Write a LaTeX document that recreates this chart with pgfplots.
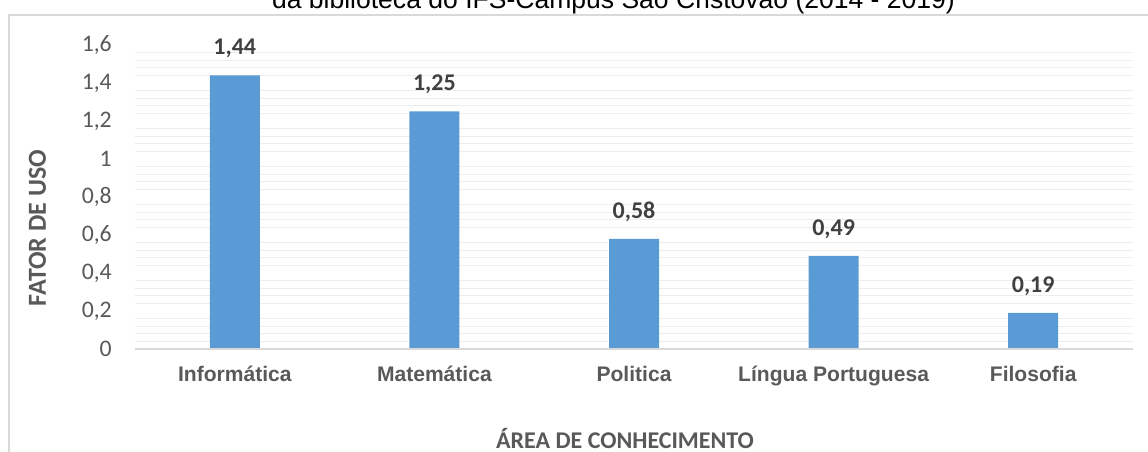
\documentclass[border=0pt]{standalone}
\usepackage{pgfplots}
\pgfplotsset{compat=1.18}
\usepackage{fontspec}
\setmainfont{Carlito}
\newfontfamily\arial{Liberation Sans}
\definecolor{barblue}{HTML}{5B9BD5}
\definecolor{txt}{HTML}{595959}
\definecolor{valtxt}{HTML}{404040}
\definecolor{axisgray}{HTML}{D9D9D9}
\definecolor{gridgray}{HTML}{EDEDED}
\begin{document}
\begin{tikzpicture}[x=0.75pt,y=0.75pt]
\useasboundingbox (0,0) rectangle (1148,452);
\draw[axisgray, line width=1.5pt] (8.5,-5) -- (8.5,437) -- (1152,437);
\node[font=\arial\fontsize{19.9}{24}\selectfont, text=black, anchor=base, inner sep=0pt] at (613.5,443) {da biblioteca do IFS-Campus São Cristóvão (2014 - 2019)};
\begin{axis}[
  at={(101.25pt,77.25pt)}, anchor=south west,
  scale only axis, width=748.5pt, height=228pt,
  xmin=-0.5, xmax=4.5, ymin=0, ymax=1.6,
  ybar, bar width=37.5pt,
  axis line style={draw=none},
  xtick={0,1,2,3,4},
  xticklabels={Informática, Matemática, Politica, Língua Portuguesa, Filosofia},
  ytick={0,0.2,0.4,0.6,0.8,1,1.2,1.4,1.6},
  minor y tick num=4,
  yminorgrids=true, ymajorgrids=false,
  minor grid style={gridgray, line width=0.8pt},
  major tick length=0pt, minor tick length=0pt,
  tick style={draw=none},
  xticklabel style={font=\arial\bfseries\fontsize{15.8}{19}\selectfont, text=txt, inner sep=0pt, anchor=north, yshift=-12.5pt},
  yticklabel style={font=\fontsize{17.8}{20}\selectfont, text=txt, inner sep=0pt, anchor=east, xshift=-17.25pt},
  yticklabel={\pgfmathprintnumber[use comma, assume math mode=true]{\tick}},
  nodes near coords={\pgfmathprintnumber[fixed, fixed zerofill, precision=2, use comma, assume math mode=true]{\pgfplotspointmeta}},
  every node near coord/.append style={font=\bfseries\fontsize{18}{21}\selectfont, text=valtxt, anchor=base, inner sep=0pt, yshift=15.5pt},
  clip=false,
]
\addplot[fill=barblue, draw=none] coordinates {(0,1.44) (1,1.25) (2,0.58) (3,0.49) (4,0.19)};
\draw[axisgray, line width=1.3pt] (rel axis cs:0,0) -- (rel axis cs:1,0);
\end{axis}
\node[rotate=90, font=\bfseries\fontsize{19.5}{23}\selectfont, text=txt] at (37.5,224) {FATOR DE USO};
\node[anchor=base, inner sep=0pt, font=\bfseries\fontsize{18}{22}\selectfont, text=txt] at (625,3) {ÁREA DE CONHECIMENTO};
\end{tikzpicture}
\end{document}
